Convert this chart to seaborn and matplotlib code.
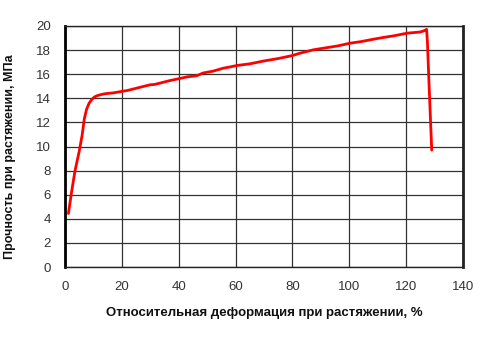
import matplotlib
matplotlib.use("Agg")
import matplotlib.pyplot as plt
import seaborn as sns
import pandas as pd

strain = [1.2, 2.3, 3.5, 5.0, 6.0, 6.8, 7.6, 8.5, 9.4, 10.3, 11.1, 12.5, 14.1, 17.0, 19.9, 22.0,
          24.0, 27.0, 29.9, 31.5, 33.4, 36.5, 39.9, 43.0, 46.3, 48.6, 52.0, 55.7, 58.0, 60.4,
          65.0, 70.0, 75.0, 80.0, 82.6, 87.3, 92.0, 96.0, 100.2, 104.0, 108.4, 112.0, 116.0,
          120.2, 122.5, 124.9, 126.3, 127.2, 127.5, 128.0, 128.6, 129.0]
stress = [4.44, 6.2, 7.96, 9.6, 10.9, 12.3, 13.1, 13.6, 13.9, 14.1, 14.2, 14.3, 14.38, 14.45, 14.57, 14.65,
          14.77, 14.95, 15.12, 15.15, 15.26, 15.45, 15.62, 15.78, 15.87, 16.1, 16.25, 16.5, 16.6, 16.72,
          16.86, 17.1, 17.3, 17.55, 17.74, 18.02, 18.2, 18.35, 18.57, 18.7, 18.9, 19.05, 19.2,
          19.4, 19.45, 19.5, 19.6, 19.72, 18.6, 15.5, 12.0, 9.7]

xticks = [0, 20, 40, 60, 80, 100, 120, 140]
yticks = [0, 2, 4, 6, 8, 10, 12, 14, 16, 18, 20]
xlabel = "Относительная деформация при растяжении, %"
ylabel = "Прочность при растяжении, МПа"

sns.set_style("white")
plt.rcParams['font.family'] = ['Liberation Sans', 'DejaVu Sans']

df = pd.DataFrame({"strain": strain, "stress": stress})

fig = plt.figure(figsize=(4.91, 3.37), dpi=100)
ax = fig.add_axes([65/491, 1 - 267/337, (463-65)/491, (267-26)/337])
sns.lineplot(data=df, x="strain", y="stress", ax=ax, color="#ff0000", lw=2.0, sort=False)

ax.set_xlim(0, 140)
ax.set_ylim(0, 20)
ax.set_xticks(xticks)
ax.set_yticks(yticks)
ax.set_xticklabels([str(t) for t in xticks], fontsize=9.5, color="#333333")
ax.set_yticklabels([str(t) for t in yticks], fontsize=9.5, color="#333333")
ax.grid(True, color="#333333", lw=0.9)
ax.set_axisbelow(True)
ax.tick_params(axis="both", direction="out", length=4, width=1, color="#222222", pad=6)
for s in ["top", "right", "bottom"]:
    ax.spines[s].set_color("#222222")
    ax.spines[s].set_linewidth(1.0)
ax.spines["left"].set_color("#000000")
ax.spines["left"].set_linewidth(2.0)
ax.spines["right"].set_linewidth(2.0)

ax.set_xlabel(xlabel, fontsize=9.5, fontweight="bold", color="#111111", labelpad=10)
ax.set_ylabel("")
fig.text(10/491, 1 - 157/337, ylabel, rotation=90, ha="center", va="center",
         fontsize=9, fontweight="bold", color="#111111")

fig.savefig("out.png", dpi=100, facecolor="white")
